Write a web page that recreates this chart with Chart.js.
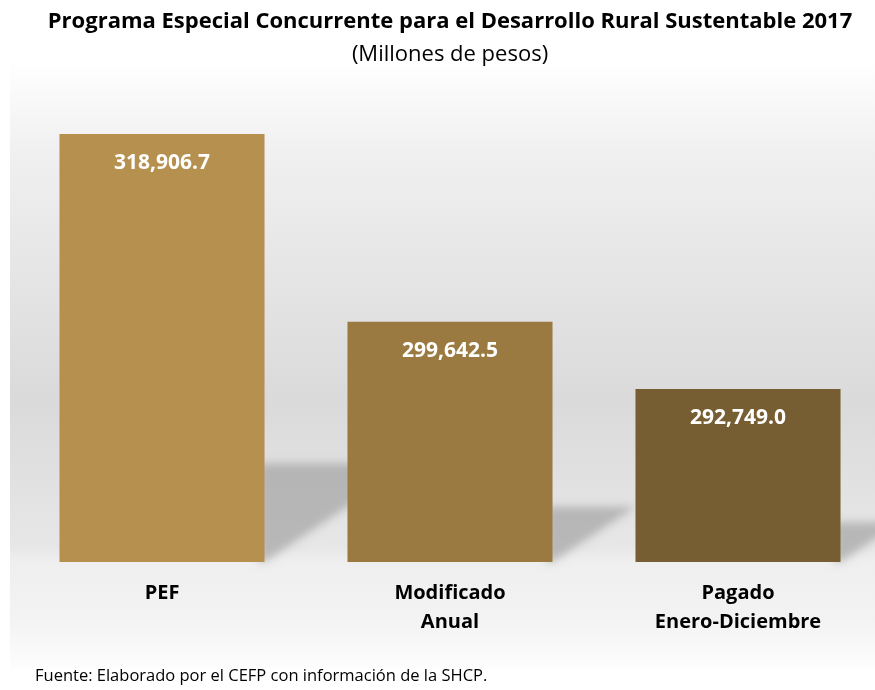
<!DOCTYPE html>
<html><head><meta charset="utf-8">
<script src="https://cdn.jsdelivr.net/npm/chart.js@4"></script>
<style>
html,body{margin:0;padding:0;overflow:hidden;background:#fff;width:875px;height:690px}
#wrap{position:absolute;left:0;top:0;width:900px;height:690px}
</style>
</head><body>
<div id="wrap"><canvas id="c" width="900" height="690"></canvas></div>
<script>
const categories = [["PEF"], ["Modificado", "Anual"], ["Pagado", "Enero-Diciembre"]];
const values = [318906.7, 299642.5, 292749.0];
const barColors = ["#b5904f", "#9b7a41", "#775d32"];
const titleText = "Programa Especial Concurrente para el Desarrollo Rural Sustentable 2017";
const subtitleText = "(Millones de pesos)";
const footerText = "Fuente: Elaborado por el CEFP con información de la SHCP.";
const yMin = 275000, yMax = 325000;

const FONT = "'Open Sans', sans-serif";

function fmt(v){
  return v.toLocaleString('en-US',{minimumFractionDigits:1,maximumFractionDigits:1});
}

const bgPlugin = {
  id:'bg',
  beforeDraw(chart){
    const ctx = chart.ctx;
    ctx.save();
    ctx.fillStyle = '#ffffff';
    ctx.fillRect(0,0,chart.width,chart.height);
    const g = ctx.createLinearGradient(0,62,0,668);
    g.addColorStop(0,'#ffffff');
    g.addColorStop(0.148,'#f0f0f0');
    g.addColorStop(0.56,'#dadada');
    g.addColorStop(0.80,'#e7e7e7');
    g.addColorStop(0.826,'#efefef');
    g.addColorStop(0.92,'#f3f3f3');
    g.addColorStop(1,'#fdfdfd');
    ctx.fillStyle = g;
    ctx.fillRect(10,62,chart.width-10,606);
    ctx.restore();
  }
};

const shadowPlugin = {
  id:'shadows',
  beforeDatasetsDraw(chart){
    const ctx = chart.ctx;
    const meta = chart.getDatasetMeta(0);
    const base = chart.chartArea.bottom;
    const OFF = 3000;
    ctx.save();
    ctx.fillStyle = '#000';
    ctx.shadowColor = 'rgba(160,160,160,0.68)';
    ctx.shadowBlur = 9;
    ctx.shadowOffsetX = OFF;
    ctx.shadowOffsetY = 0;
    meta.data.forEach(bar => {
      const right = bar.x + bar.width/2;
      const h = (base - bar.y) * 0.23;
      const w = h * 1.5;
      ctx.beginPath();
      ctx.moveTo(right - 6 - OFF, base - h);
      ctx.lineTo(right + w - OFF, base - h);
      ctx.lineTo(right - OFF, base);
      ctx.lineTo(right - 6 - OFF, base);
      ctx.closePath();
      ctx.fill();
    });
    ctx.restore();
  }
};

const labelPlugin = {
  id:'barLabels',
  afterDatasetsDraw(chart){
    const ctx = chart.ctx;
    const meta = chart.getDatasetMeta(0);
    ctx.save();
    ctx.fillStyle = '#ffffff';
    ctx.font = 'bold 21px ' + FONT;
    ctx.textAlign = 'center';
    ctx.textBaseline = 'middle';
    meta.data.forEach((bar,i) => {
      ctx.fillText(fmt(values[i]), bar.x, bar.y + 29);
    });
    ctx.restore();
  }
};

const footerPlugin = {
  id:'footer',
  afterDraw(chart){
    const ctx = chart.ctx;
    ctx.save();
    ctx.fillStyle = '#000000';
    ctx.font = '16.5px ' + FONT;
    ctx.textAlign = 'left';
    ctx.textBaseline = 'middle';
    ctx.fillText(footerText, 35, 676);
    ctx.restore();
  }
};

new Chart(document.getElementById('c'), {
  type:'bar',
  data:{
    labels: categories,
    datasets:[{
      data: values,
      backgroundColor: barColors,
      borderWidth: 0,
      barPercentage: 0.712,
      categoryPercentage: 1.0
    }]
  },
  options:{
    responsive:false,
    animation:false,
    devicePixelRatio:1,
    layout:{padding:{left:18,right:18,top:0,bottom:44}},
    plugins:{
      legend:{display:false},
      tooltip:{enabled:false},
      title:{display:true,text:titleText,color:'#000',font:{family:FONT,size:22,weight:'bold',lineHeight:1.2},padding:{top:9,bottom:0}},
      subtitle:{display:true,text:subtitleText,color:'#000',font:{family:FONT,size:22,weight:'normal',lineHeight:1.2},padding:{top:6.4,bottom:6.3}}
    },
    scales:{
      x:{
        grid:{display:false},
        border:{display:false},
        ticks:{color:'#000',padding:9,font:{family:FONT,size:20,weight:'bold',lineHeight:'29px'},maxRotation:0}
      },
      y:{display:false,min:yMin,max:yMax}
    }
  },
  plugins:[bgPlugin, shadowPlugin, labelPlugin, footerPlugin]
});
</script>
</body></html>
